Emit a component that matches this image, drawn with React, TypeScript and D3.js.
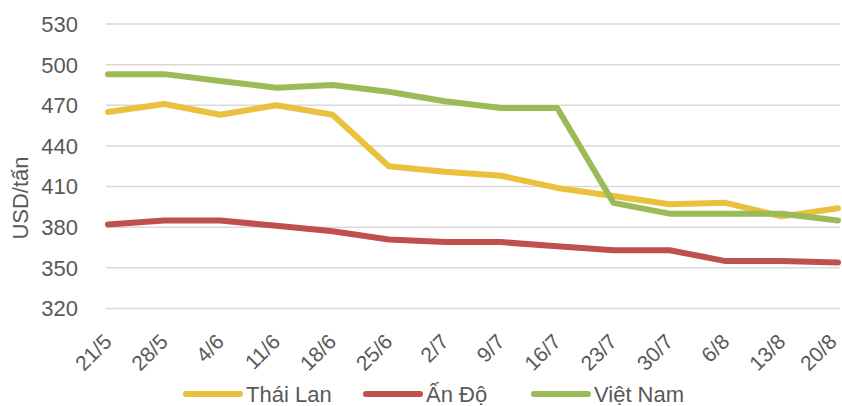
import React, { useRef, useEffect } from 'react';
import * as d3 from 'd3';

const dates = ['21/5', '28/5', '4/6', '11/6', '18/6', '25/6', '2/7', '9/7', '16/7', '23/7', '30/7', '6/8', '13/8', '20/8'];
const thaiLan = [465, 471, 463, 470, 463, 425, 421, 418, 409, 403, 397, 398, 388, 394];
const anDo = [382, 385, 385, 381, 377, 371, 369, 369, 366, 363, 363, 355, 355, 354];
const vietNam = [493, 493, 488, 483, 485, 480, 473, 468, 468, 398, 390, 390, 390, 385];
const yTicks = [320, 350, 380, 410, 440, 470, 500, 530];

const seriesNames = ['Thái Lan', 'Ấn Độ', 'Việt Nam'];
const seriesColors = ['#E9C13C', '#C0504D', '#9BBB59'];

const App = () => {
  const svgRef = useRef(null);

  useEffect(() => {
    const width = 842;
    const height = 406;
    const font = 'Liberation Sans, Arial, sans-serif';
    const textColor = '#595959';

    const svg = d3.select(svgRef.current);
    svg.selectAll('*').remove();
    svg.attr('width', width).attr('height', height);

    // scales
    const x = d3.scalePoint().domain(dates).range([108, 838]);
    const y = d3.scaleLinear().domain([320, 530]).range([308.5, 24]);

    // grid lines
    svg.append('g')
      .selectAll('line')
      .data(yTicks)
      .enter().append('line')
      .attr('x1', 106)
      .attr('x2', 840)
      .attr('y1', d => y(d))
      .attr('y2', d => y(d))
      .attr('stroke', '#d9d9d9')
      .attr('stroke-width', 1.5);

    // y tick labels
    svg.append('g')
      .selectAll('text')
      .data(yTicks)
      .enter().append('text')
      .attr('x', 78)
      .attr('y', d => y(d))
      .attr('dy', '0.36em')
      .attr('text-anchor', 'end')
      .attr('font-family', font)
      .attr('font-size', 22)
      .attr('fill', textColor)
      .text(d => d);

    // y axis title
    svg.append('text')
      .attr('transform', 'translate(28,198) rotate(-90)')
      .attr('text-anchor', 'middle')
      .attr('font-family', font)
      .attr('font-size', 22)
      .attr('fill', textColor)
      .text('USD/tấn');

    // x tick labels (rotated)
    svg.append('g')
      .selectAll('text')
      .data(dates)
      .enter().append('text')
      .attr('transform', d => `translate(${Math.min(x(d) + 5, 838)},${343}) rotate(-45)`)
      .attr('text-anchor', 'end')
      .attr('font-family', font)
      .attr('font-size', 21)
      .attr('fill', textColor)
      .text(d => d);

    // lines
    const allSeries = [thaiLan, anDo, vietNam];
    const line = d3.line<number>()
      .x((d, i) => x(dates[i]))
      .y(d => y(d));

    allSeries.forEach((values, k) => {
      svg.append('path')
        .datum(values)
        .attr('d', line)
        .attr('fill', 'none')
        .attr('stroke', seriesColors[k])
        .attr('stroke-width', 6)
        .attr('stroke-linejoin', 'round')
        .attr('stroke-linecap', 'round');
    });

    // legend
    const legendX = [186, 366, 534];
    const legend = svg.append('g');
    seriesNames.forEach((name, k) => {
      legend.append('line')
        .attr('x1', legendX[k])
        .attr('x2', legendX[k] + 54)
        .attr('y1', 394)
        .attr('y2', 394)
        .attr('stroke', seriesColors[k])
        .attr('stroke-width', 6)
        .attr('stroke-linecap', 'round');
      legend.append('text')
        .attr('x', legendX[k] + 60)
        .attr('y', 394)
        .attr('dy', '0.36em')
        .attr('font-family', font)
        .attr('font-size', 22)
        .attr('fill', textColor)
        .text(name);
    });
  }, []);

  return (
    <svg ref={svgRef} style={{ position: 'absolute', left: 0, top: 0 }}></svg>
  );
};

export default App;
